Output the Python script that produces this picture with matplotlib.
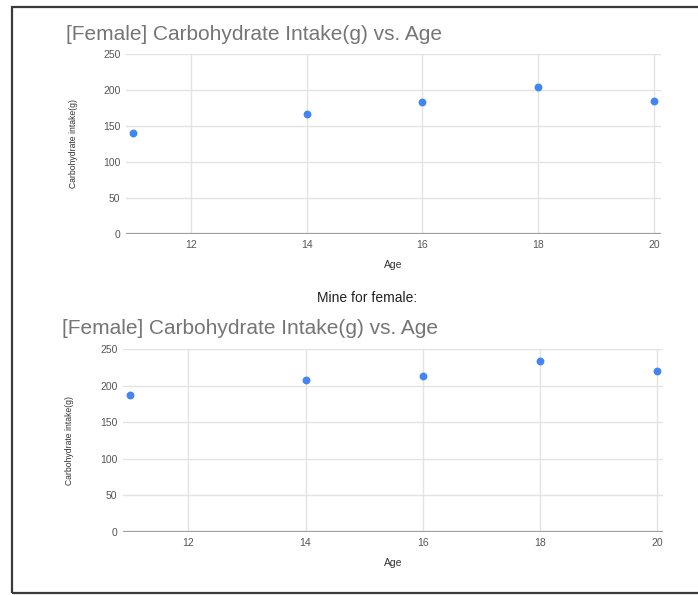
import matplotlib
matplotlib.use("Agg")
import matplotlib.pyplot as plt
from matplotlib.patches import Rectangle

# Ages and carbohydrate intake
ages = [11, 14, 16, 18, 20]
carbs_reference = [140, 167, 184, 204, 185]
carbs_mine = [187, 207, 213, 233, 220]

title = "[Female] Carbohydrate Intake(g) vs. Age"
x_ticks = [12, 14, 16, 18, 20]
y_ticks = [0, 50, 100, 150, 200, 250]

plt.rcParams['font.family'] = ['Liberation Sans', 'DejaVu Sans']

W, H = 698, 595
fig = plt.figure(figsize=(W / 100, H / 100), dpi=100)
fig.patch.set_facecolor('white')

# frame of the screenshot (right edge runs off the image)
fig.patches.append(Rectangle((12 / W, 1 - 593 / H), 700 / W, (593 - 7) / H,
                             transform=fig.transFigure, fill=False,
                             edgecolor='#3a3a3a', linewidth=1.6))


def draw_panel(box, values, xlim, title_xy, xlab_y, ylab_x):
    left, top, right, bottom = box
    ax = fig.add_axes([left / W, 1 - bottom / H, (right - left) / W, (bottom - top) / H])
    ax.scatter(ages, values, s=32, color='#4285f4', zorder=3, linewidths=0)
    ax.set_xlim(*xlim)
    ax.set_ylim(0, 250)
    ax.set_xticks(x_ticks)
    ax.set_yticks(y_ticks)
    ax.grid(True, color='#e3e3e3', linewidth=1.0)
    ax.set_axisbelow(True)
    for s in ax.spines.values():
        s.set_visible(False)
    ax.axhline(0, color='#9e9e9e', linewidth=1.6, zorder=2)
    ax.tick_params(length=0, labelsize=7.5, labelcolor='#555555')
    ax.tick_params(axis='y', pad=4)
    ax.tick_params(axis='x', pad=4)
    # chart title and axis titles
    fig.text(title_xy[0] / W, 1 - title_xy[1] / H, title, fontsize=15,
             color='#757575', ha='left', va='center')
    fig.text((left + right) / 2 / W, 1 - xlab_y / H, "Age", fontsize=7.5,
             color='#333333', ha='center', va='center')
    fig.text(ylab_x / W, 1 - (top + bottom) / 2 / H, "Carbohydrate intake(g)",
             fontsize=6.2, color='#333333', rotation=90, ha='center', va='center')
    return ax


draw_panel((126, 54, 661, 234), carbs_reference, (10.88, 20.12), (66, 34), 265, 73)
fig.text(367 / W, 1 - 298 / H, "Mine for female:", fontsize=10, color='#222222',
         ha='center', va='center')
draw_panel((123, 349, 663, 532), carbs_mine, (10.886, 20.1), (62, 328), 563, 69)

fig.savefig("out.png", dpi=100)
